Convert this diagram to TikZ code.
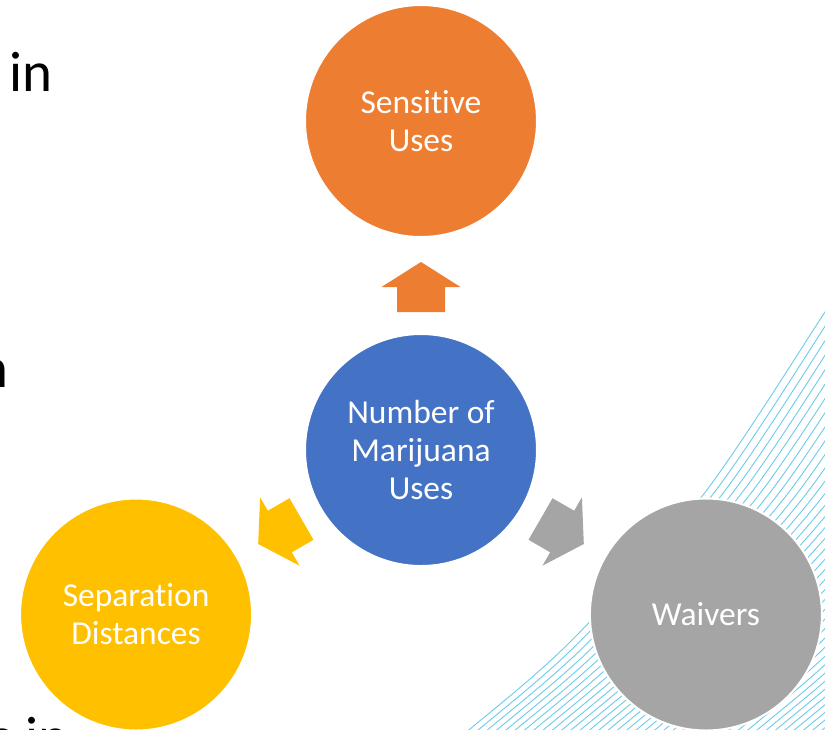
\documentclass[tikz,border=0pt]{standalone}
\usepackage{fontspec}
\setmainfont{Carlito}[Ligatures=CommonOff]
\usetikzlibrary{calc}
\definecolor{orng}{HTML}{ED7D31}
\definecolor{blu}{HTML}{4472C4}
\definecolor{yel}{HTML}{FFC000}
\definecolor{gry}{HTML}{A5A5A5}
\definecolor{hatchblue}{HTML}{6CCBEA}
\begin{document}
\begin{tikzpicture}[x=1pt,y=1pt,
  bubble/.style={circle, minimum size=232pt, inner sep=0pt, draw=white, line width=2pt,
    text=white, align=center, font=\fontsize{33.5}{38}\selectfont},
  hatchline/.style={draw=hatchblue, line width=0.9pt},
  slidetext/.style={inner sep=0pt, font=\fontsize{57}{67}\selectfont, text=black}]
\useasboundingbox (0,0) rectangle (825,-729);
\clip (0,0) rectangle (825,-729);
% decorative hatch swoosh
\foreach \i in {0,...,40}{
  \draw[hatchline, xshift=\i*9.3pt] plot[smooth] coordinates
    {(380,-800) (470,-729) (570,-642) (703,-495) (823,-315) (860,-255)};
}
% partial slide text on the left
\node[slidetext, anchor=base west] (t1) at (9,-91) {in};
\node[slidetext, anchor=base east] (t2) at (9,-387) {n};
\node[slidetext, anchor=base east] (t3) at ($(t1.base east)+(16,-665)$) {s in};
% circles
\node[bubble, fill=blu]  (blue)   at (421,-450) {Number of\\Marijuana\\Uses};
\node[bubble, fill=orng] (orange) at ($(blue)+(90:329)$) {Sensitive\\Uses};
\node[bubble, fill=yel]  (yellow) at ($(blue)+(210:329)$) {Separation\\Distances};
\node[bubble, fill=gry]  (gray)   at ($(blue)+(-30:329)$) {Waivers};
% block arrows
\foreach \a/\c in {90/orng, 210/yel, -30/gry}{
  \fill[\c, shift={(blue.center)}, rotate=\a]
    (188,0) -- (163,39.5) -- (163,24) -- (138,24) -- (138,-24) -- (163,-24) -- (163,-39.5) -- cycle;
}
\end{tikzpicture}
\end{document}
